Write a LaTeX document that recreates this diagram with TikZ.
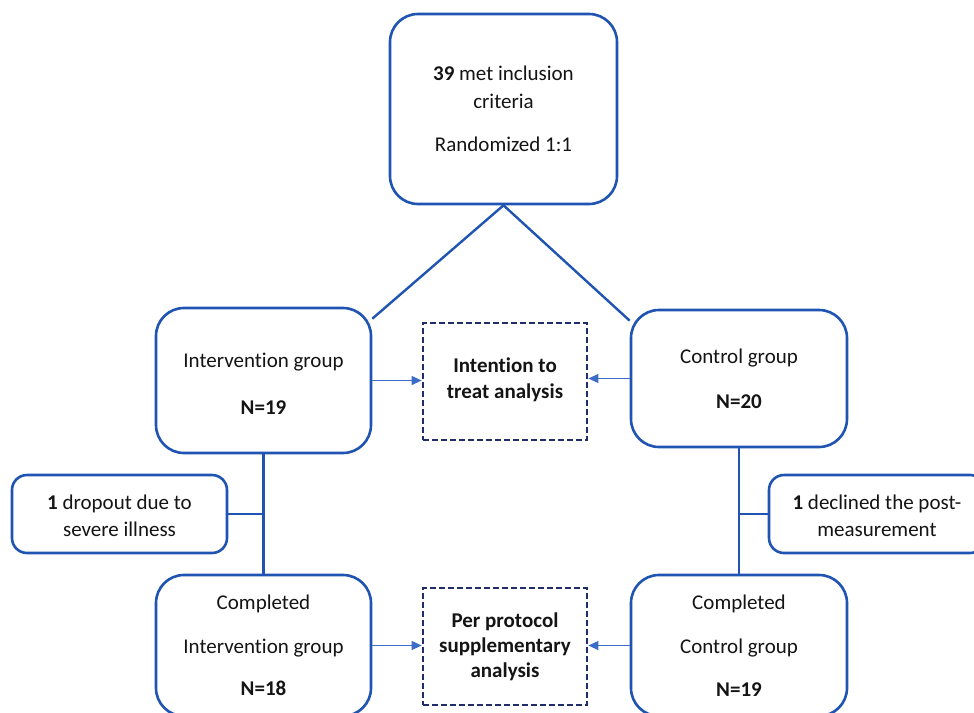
\documentclass[tikz,border=0pt]{standalone}
\usepackage{fontspec}
\setmainfont{Carlito}[Ligatures={NoCommon}]
\usetikzlibrary{arrows.meta,calc}
\definecolor{boxblue}{HTML}{2054B2}
\definecolor{navy}{HTML}{1F2D6B}
\definecolor{arrblue}{HTML}{3A6CC8}
\definecolor{txt}{HTML}{141414}
\begin{document}
\begin{tikzpicture}[x=1pt,y=-1pt,
  every node/.style={font=\fontsize{21}{25.2}\selectfont, text=txt, align=center, inner sep=0pt},
  gbox/.style={draw=boxblue, line width=2.6pt, rounded corners=28pt, fill=white},
  sbox/.style={draw=boxblue, line width=2.6pt, rounded corners=15pt, fill=white},
  dbox/.style={draw=navy, line width=2.8pt, dash pattern=on 6pt off 3pt, font=\fontsize{21}{25.2}\selectfont\bfseries},
  conn/.style={draw=boxblue, line width=2.4pt},
  arr/.style={draw=arrblue, line width=1.1pt, -{Triangle[length=10pt,width=9pt]}}
]
\useasboundingbox (0,0) rectangle (974,712);
\clip (0,0) rectangle (974,712);

\node[gbox, minimum width=227pt, minimum height=190pt] (top) at (503.5,109)
  {\textbf{39} met inclusion\\[3pt] criteria\\[18pt] Randomized 1:1};

\node[gbox, minimum width=215pt, minimum height=145pt] (int) at (263.5,380.5) {};
\node (intT) at ([yshift=-3pt]int.center) {Intervention group\\[22pt] \textbf{N=19}};
\node[gbox, minimum width=216pt, minimum height=137pt] (ctl) at (739,378.5)
  {Control group\\[20pt] \textbf{N=20}};
\node[dbox, minimum width=164pt, minimum height=117pt] (itt) at (505,381.5)
  {Intention to\\[1pt] treat analysis\\[-19pt]\mbox{}};

\node[sbox, minimum width=215pt, minimum height=78pt] (drop) at (119.5,514) {};
\node (dropT) at ([yshift=-2pt]drop.center) {\textbf{1} dropout due to\\[2pt] severe illness};
\node[sbox, minimum width=216pt, minimum height=78pt] (decl) at (877,514) {};
\node (declT) at ([yshift=-2pt]decl.center) {\textbf{1} declined the post-\\[2pt] measurement};

\node[gbox, minimum width=215pt, minimum height=141pt] (cint) at (263.5,645.5)
  {Completed\\[19pt] Intervention group\\[17pt] \textbf{N=18}};
\node[gbox, minimum width=216pt, minimum height=141pt] (cctl) at (739,645.5)
  {Completed\\[19pt] Control group\\[17pt] \textbf{N=19}};
\node[dbox, minimum width=164pt, minimum height=117pt] (pp) at (505,646.5)
  {Per protocol\\[0pt] supplementary\\[0pt] analysis};

\draw[conn] (top.south) -- ([yshift=-12pt]int.north east);
\draw[conn] (top.south) -- ([yshift=-12pt]ctl.north west);
\draw[conn] (int.south) -- (cint.north);
\draw[conn] (int.south |- drop.east) -- (drop.east);
\draw[conn] (ctl.south) -- (cctl.north);
\draw[conn] (ctl.south |- decl.west) -- (decl.west);

\draw[arr] (int.east) -- (int.east -| itt.west);
\draw[arr] (ctl.west) -- (ctl.west -| itt.east);
\draw[arr] (cint.east) -- (cint.east -| pp.west);
\draw[arr] (cctl.west) -- (cctl.west -| pp.east);
\end{tikzpicture}
\end{document}
